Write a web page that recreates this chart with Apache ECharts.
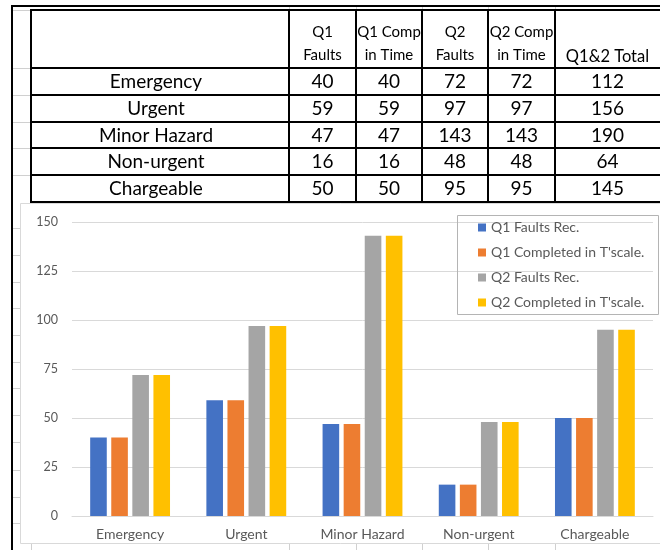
<!DOCTYPE html>
<html>
<head>
<meta charset="utf-8">
<script src="https://cdn.jsdelivr.net/npm/echarts@6/dist/echarts.min.js"></script>
<style>
  html, body { margin: 0; padding: 0; background: #fff; }
  #main { width: 660px; height: 550px; }
</style>
</head>
<body>
<div id="main"></div>
<script>
// ---- data ----
const categories = ['Emergency', 'Urgent', 'Minor Hazard', 'Non-urgent', 'Chargeable'];
const q1Faults = [40, 59, 47, 16, 50];
const q1InTime = [40, 59, 47, 16, 50];
const q2Faults = [72, 97, 143, 48, 95];
const q2InTime = [72, 97, 143, 48, 95];
const totals = [112, 156, 190, 64, 145];
const headerLines = [['Q1', 'Faults'], ['Q1 Comp', 'in Time'], ['Q2', 'Faults'], ['Q2 Comp', 'in Time']];
const totalHeader = 'Q1&2 Total';
const seriesNames = ['Q1 Faults Rec.', "Q1 Completed in T'scale.", 'Q2 Faults Rec.', "Q2 Completed in T'scale."];
const yMin = 0, yMax = 150, yStep = 25;

// ---- layout of the sheet ----
const FONT = 'Lato, "Open Sans", sans-serif';
const colX = [31, 289, 356, 422, 488, 555, 662];
const rowY = [10, 68, 95, 122, 148, 175, 202];
const sheetRowsBelow = [228, 255, 282, 308, 335, 362, 388, 415, 442, 470, 497, 523];
const BLACK = '#000';
const SHEET_GRID = '#d0d0d0';
const TOTAL_CX = 607.5;

const g = [];
function line(x1, y1, x2, y2, color, w, z) {
  g.push({ type: 'line', silent: true, z: z || 10,
    shape: { x1, y1, x2, y2 }, style: { stroke: color, lineWidth: w } });
}
function text(str, x, y, size) {
  g.push({ type: 'text', silent: true, z: 12, x, y,
    style: { text: str, fontFamily: FONT, fontSize: size, fill: '#000',
      align: 'center', verticalAlign: 'middle' } });
}

// chart area panel
g.push({ type: 'rect', silent: true, z: -10,
  shape: { x: 20.5, y: 203.5, width: 660, height: 340 },
  style: { fill: '#fff', stroke: '#d9d9d9', lineWidth: 1 } });

// spreadsheet gridlines at the left margin, top and bottom
[10, 68, 95, 122, 148, 175].forEach(y => line(13, y + 0.5, 30, y + 0.5, SHEET_GRID, 1, 1));
sheetRowsBelow.forEach(y => line(13, y + 0.5, 20, y + 0.5, SHEET_GRID, 1, 1));
colX.slice(0, 6).forEach(x => line(x + 0.5, 544, x + 0.5, 550, SHEET_GRID, 1, 1));
colX.slice(1, 6).forEach(x => line(x + 0.5, 7, x + 0.5, 9, SHEET_GRID, 1, 1));

// outer frame
line(12, 5, 12, 550, BLACK, 2);
line(11, 6, 660, 6, BLACK, 2);

// table borders
rowY.forEach(y => line(30, y, 662, y, BLACK, 2));
colX.slice(0, 6).forEach(x => line(x, 9, x, 203, BLACK, 2));

// header text
headerLines.forEach((pair, i) => {
  const cx = (colX[i + 1] + colX[i + 2]) / 2;
  text(pair[0], cx, 32, 15);
  text(pair[1], cx, 55, 15);
});
text(totalHeader, TOTAL_CX, 57, 16.5);

// body rows
const columns = [q1Faults, q1InTime, q2Faults, q2InTime];
categories.forEach((cat, r) => {
  const cy = (rowY[r + 1] + rowY[r + 2]) / 2 + 0.5;
  text(cat, (colX[0] + colX[1]) / 2 - 4, cy, 19);
  columns.forEach((arr, c) => text(String(arr[r]), (colX[c + 1] + colX[c + 2]) / 2, cy, 19));
  text(String(totals[r]), TOTAL_CX, cy, 19);
});

// legend frame
g.push({ type: 'rect', silent: true, z: 5,
  shape: { x: 457.5, y: 215.5, width: 201, height: 99 },
  style: { fill: 'none', stroke: '#b4b4b4', lineWidth: 1 } });

const chart = echarts.init(document.getElementById('main'), null, { renderer: 'canvas' });
const seriesData = [q1Faults, q1InTime, q2Faults, q2InTime];
chart.setOption({
  animation: false,
  color: ['#4472C4', '#ED7D31', '#A5A5A5', '#FFC000'],
  grid: { left: 72, right: 7, top: 222, bottom: 34 },
  legend: {
    orient: 'vertical', left: 478, top: 220.5, padding: 0,
    itemWidth: 8, itemHeight: 8, itemGap: 11, icon: 'rect',
    textStyle: { fontFamily: FONT, fontSize: 14, color: '#595959', lineHeight: 14 }
  },
  xAxis: {
    type: 'category', data: categories,
    axisLine: { lineStyle: { color: '#d9d9d9' } },
    axisTick: { show: false },
    axisLabel: { fontFamily: FONT, fontSize: 14, color: '#595959', margin: 11 }
  },
  yAxis: {
    type: 'value', min: yMin, max: yMax, interval: yStep,
    axisLine: { show: false }, axisTick: { show: false },
    splitLine: { lineStyle: { color: '#d9d9d9' } },
    axisLabel: { fontFamily: FONT, fontSize: 12.5, color: '#595959', margin: 14 }
  },
  series: seriesNames.map((name, i) => ({
    name, type: 'bar', data: seriesData[i],
    barWidth: 16.6, barGap: '27%'
  })),
  graphic: g
});
</script>
</body>
</html>
